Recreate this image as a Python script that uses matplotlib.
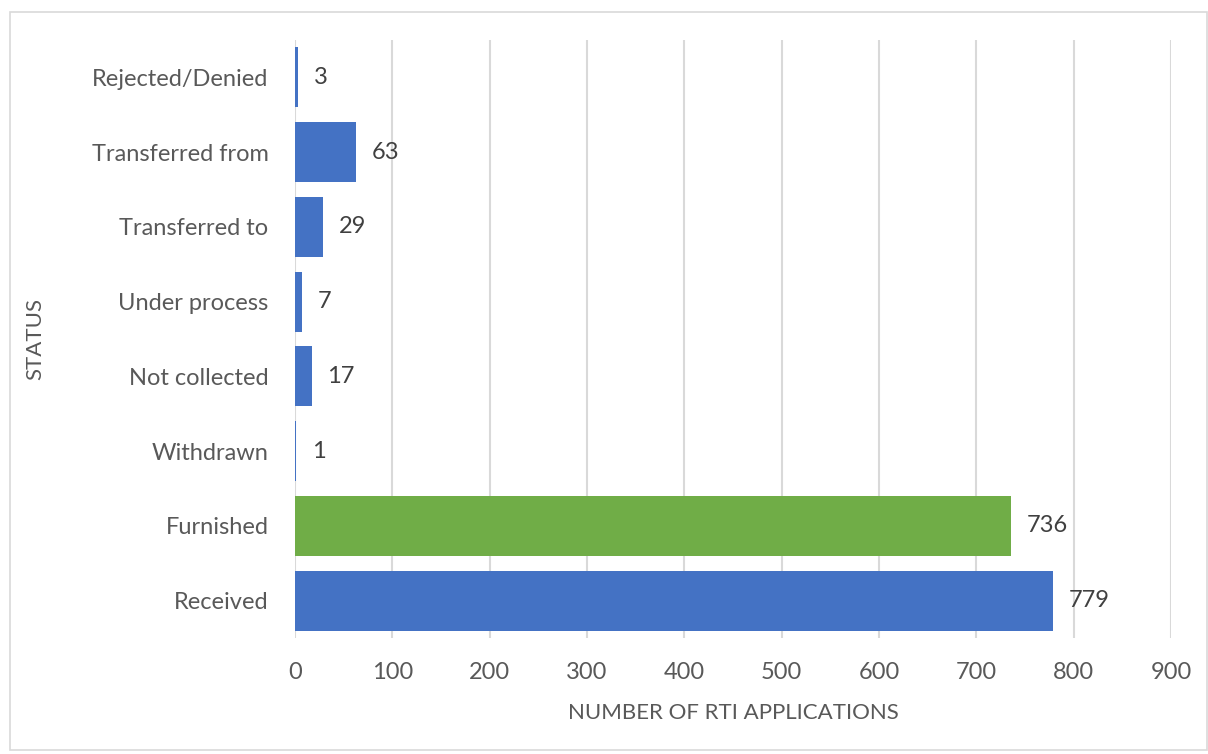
import matplotlib
matplotlib.use("Agg")
import matplotlib.pyplot as plt
from matplotlib.patches import Rectangle

categories = ["Received", "Furnished", "Withdrawn", "Not collected",
              "Under process", "Transferred to", "Transferred from", "Rejected/Denied"]
values = [779, 736, 1, 17, 7, 29, 63, 3]
colors = ["#4472C4", "#70AD47", "#4472C4", "#4472C4",
          "#4472C4", "#4472C4", "#4472C4", "#4472C4"]
xticks = [0, 100, 200, 300, 400, 500, 600, 700, 800, 900]

plt.rcParams['font.family'] = ['Lato', 'DejaVu Sans']

fig = plt.figure(figsize=(12.08, 7.54), dpi=100)
fig.patches.append(Rectangle((10/1208, 4/754), 1197/1208, 738/754, transform=fig.transFigure,
                             fill=False, edgecolor="#D9D9D9", linewidth=1.2))
ax = fig.add_axes([295/1208, 1 - 638/754, (1171 - 295)/1208, (638 - 40)/754])

y = list(range(len(categories)))
ax.barh(y, values, height=0.8, color=colors, zorder=3)
for yi, v in zip(y, values):
    ax.text(v + 16, yi, str(v), va="center", ha="left", fontsize=17, color="#404040")

ax.set_xlim(0, 900)
ax.set_ylim(-0.5, len(categories) - 0.5)
ax.set_xticks(xticks)
ax.set_xticklabels([str(t) for t in xticks])
ax.set_yticks(y)
ax.set_yticklabels(categories)
ax.tick_params(axis="both", length=0, labelsize=17, colors="#595959")
ax.tick_params(axis="x", pad=17)
ax.tick_params(axis="y", pad=19)
ax.grid(axis="x", color="#D9D9D9", linewidth=1.5, zorder=0)
for s in ax.spines.values():
    s.set_visible(False)
ax.set_xlabel("NUMBER OF RTI APPLICATIONS", fontsize=16, color="#595959")
ax.set_ylabel("STATUS", fontsize=16, color="#595959")
ax.xaxis.set_label_coords(0.5, -(713 - 638) / 598, transform=ax.transAxes)
ax.yaxis.set_label_coords((35 - 295) / 876, 0.5, transform=ax.transAxes)
ax.xaxis.label.set_va("center")
ax.yaxis.label.set_va("center")

fig.savefig("out.png", dpi=100)
